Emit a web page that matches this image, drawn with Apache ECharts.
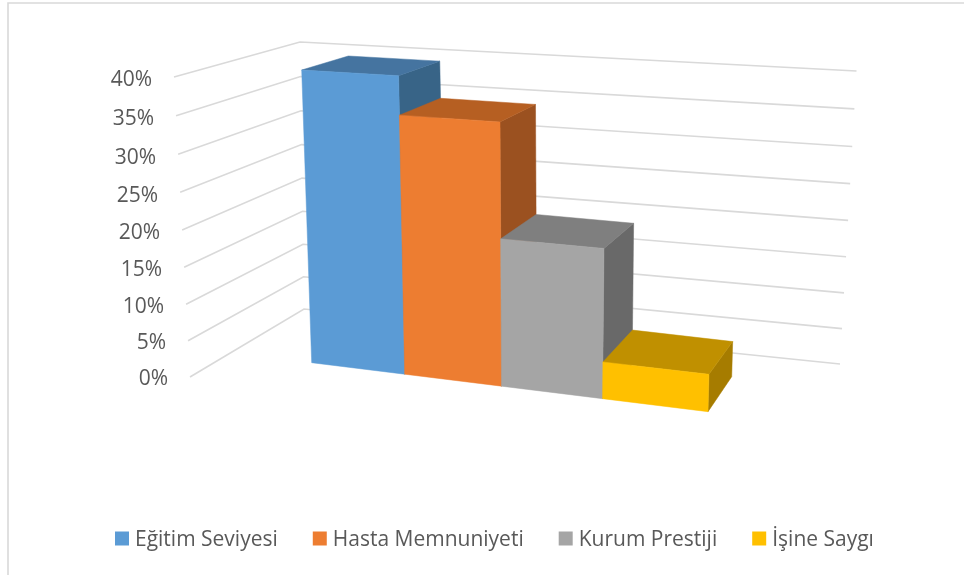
<!DOCTYPE html>
<html><head><meta charset="utf-8">
<style>html,body{margin:0;padding:0;background:#fff}#c{width:964px;height:575px}</style>
<script src="https://cdn.jsdelivr.net/npm/echarts@6/dist/echarts.min.js"></script>
</head><body><div id="c"></div>
<script>
const categories = ['Eğitim Seviyesi','Hasta Memnuniyeti','Kurum Prestiji','İşine Saygı'];
const values = [40, 35, 20, 5];
const tickValues = [0,5,10,15,20,25,30,35,40];
const faceColors = ['#5B9BD5','#ED7D31','#A5A5A5','#FFC000'];
const topColors  = ['#4574A0','#B65F22','#7F7F7F','#C09000'];
const sideColors = ['#386487','#9B5120','#696969','#A67C00'];

const FONT = 'Open Sans';
const TEXT = '#595959';
const MAXV = 40;
const GRID_H = 298.3;

// perspective view: corners as [u=0,v=0],[u=1,v=0],[u=1,v=1],[u=0,v=1]
function homography(q){
  const [x0,y0]=q[0],[x1,y1]=q[1],[x2,y2]=q[2],[x3,y3]=q[3];
  const dx1=x1-x2,dx2=x3-x2,sx=x0-x1+x2-x3,dy1=y1-y2,dy2=y3-y2,sy=y0-y1+y2-y3;
  const den=dx1*dy2-dx2*dy1;
  const g=(sx*dy2-dx2*sy)/den,h=(dx1*sy-sx*dy1)/den;
  const a=x1-x0+g*x1,b=x3-x0+h*x3,d=y1-y0+g*y1,e=y3-y0+h*y3;
  return (s,t)=>{const w=g*s+h*t+1;return [(a*s+b*t+x0)/w,(d*s+e*t+y0)/w];};
}
const front = homography([[311.7,362.7],[708,411.7],[716,94.5],[301.7,70]]);
const back  = homography([[358,331],[731.7,376.7],[740,78],[348.3,56]]);
function lerp(a,b,t){return [a[0]+(b[0]-a[0])*t,a[1]+(b[1]-a[1])*t];}
// foreshortening of the vertical scale towards the top of the view
function depthWarp(t,a){return t/(a+(1-a)*t);}
const wallL=[[190,377],[174,77]], wallC=[[304,309],[300,42]], wallR=[[840,364],[856.5,71]];

function norm(params,api,cat,val){
  const p=api.coord([cat,val]), band=api.size([1,0])[0], cs=params.coordSys;
  return {u:(p[0]-band/2-cs.x)/cs.width, v:(cs.y+cs.height-p[1])/cs.height, du:band/cs.width};
}
function renderBar(i){
  return function(params,api){
    const n=norm(params,api,api.value(0),api.value(1));
    const s0=n.u,s1=n.u+n.du,t=depthWarp(n.v,1.02);
    const f00=front(s0,0),f10=front(s1,0),f11=front(s1,t),f01=front(s0,t);
    const b10=back(s1,0),b11=back(s1,t),b01=back(s0,t);
    const poly=(pts,fill)=>({type:'polygon',shape:{points:pts},style:{fill:fill,stroke:fill,lineWidth:0.5}});
    return {type:'group',children:[
      poly([f10,b10,b11,f11],sideColors[i]),
      poly([f01,f11,b11,b01],topColors[i]),
      poly([f00,f10,f11,f01],faceColors[i])
    ]};
  };
}
function renderTick(params,api){
  const n=norm(params,api,0,api.value(1));
  const t=depthWarp(n.v,1.04);
  const pts=[lerp(wallL[0],wallL[1],t),lerp(wallC[0],wallC[1],t),lerp(wallR[0],wallR[1],t)];
  return {type:'polyline',shape:{points:pts},style:{fill:'none',stroke:'#D9D9D9',lineWidth:1.6}};
}
const rich={};
tickValues.forEach(v=>{
  const t=v/MAXV, dy=(t-depthWarp(t,1.05))*GRID_H;
  rich['t'+v]={padding:[2*dy,16*t,0,0],fontFamily:FONT,fontSize:21,color:TEXT};
});

const series=[{name:'grid',type:'custom',silent:true,z:1,renderItem:renderTick,
  data:tickValues.map(v=>[0,v]),encode:{x:0,y:1}}];
categories.forEach((c,i)=>series.push({name:c,type:'custom',silent:true,z:2+i,renderItem:renderBar(i),
  itemStyle:{color:faceColors[i]},data:[[i,values[i]]],encode:{x:0,y:1}}));

const chart=echarts.init(document.getElementById('c'),null,{renderer:'canvas'});
chart.setOption({
  animation:false,
  backgroundColor:'#fff',
  grid:{left:168,top:80.5,width:540,height:GRID_H},
  xAxis:{type:'category',data:categories,show:false},
  yAxis:{type:'value',min:0,max:MAXV,interval:5,
    axisLine:{show:false},axisTick:{show:false},splitLine:{show:false},
    axisLabel:{margin:0,formatter:v=>'{t'+v+'|'+v+'%}',rich:rich,fontFamily:FONT,fontSize:21,color:TEXT}},
  legend:{data:categories,left:110,top:525,icon:'rect',itemWidth:14,itemHeight:14,itemGap:35,
    formatter:n=>'{a|'+n+'}',
    textStyle:{fontFamily:FONT,fontSize:21,color:TEXT,rich:{a:{fontFamily:FONT,fontSize:21,color:TEXT,padding:[4,0,0,1]}}}},
  graphic:[{type:'polyline',silent:true,shape:{points:[[8,575],[8,3],[964,3]]},style:{fill:'none',stroke:'#D9D9D9',lineWidth:1.6}}],
  series:series
});
</script></body></html>
